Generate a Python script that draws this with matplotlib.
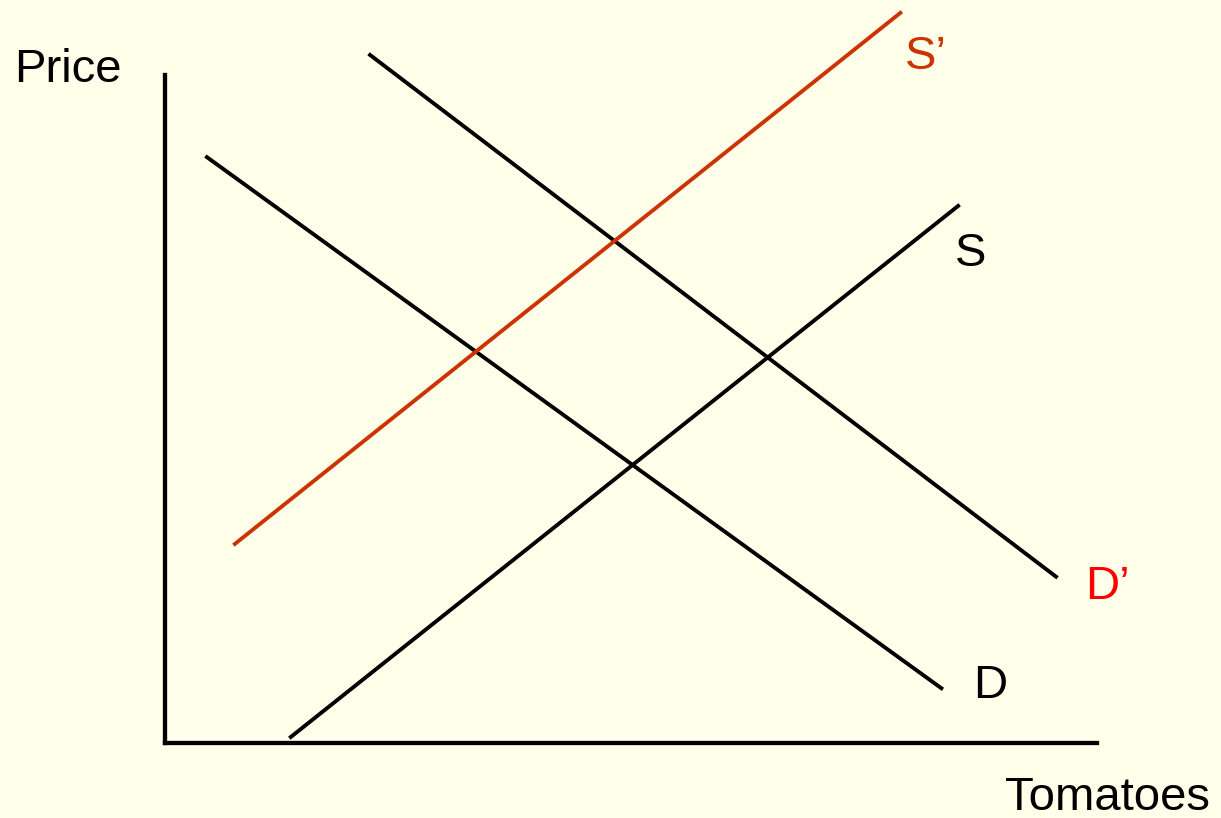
import matplotlib.pyplot as plt

# supply / demand shift diagram, units 0-100 on each axis
D_q = [4.5, 83.3]
D_p = [87.7, 8.2]
D2_q = [22.0, 95.6]
D2_p = [103.0, 24.9]
S_q = [13.5, 85.1]
S_p = [0.9, 80.4]
S2_q = [7.5, 78.9]
S2_p = [29.8, 109.3]

bg = '#ffffea'
plt.rcParams['font.family'] = ['Liberation Sans', 'DejaVu Sans']

fig = plt.figure(figsize=(12.21, 8.18), dpi=100, facecolor=bg)
ax = fig.add_axes([165 / 1221, 75 / 818, 932 / 1221, 668 / 818])
ax.set_facecolor(bg)
ax.patch.set_alpha(0)
ax.set_xlim(0, 100)
ax.set_ylim(0, 100)

for sp in ['top', 'right']:
    ax.spines[sp].set_visible(False)
for sp in ['left', 'bottom']:
    ax.spines[sp].set_linewidth(3.1)
    ax.spines[sp].set_capstyle('projecting')
ax.set_xticks([])
ax.set_yticks([])

lw = 2.8
ax.plot(D_q, D_p, color='black', lw=lw, clip_on=False)
ax.plot(D2_q, D2_p, color='black', lw=lw, clip_on=False)
ax.plot(S_q, S_p, color='black', lw=lw, clip_on=False)
ax.plot(S2_q, S2_p, color='#cc3300', lw=lw, clip_on=False)

fs = 34
ax.text(S2_q[1] + 0.5, S2_p[1] - 6.6, 'S\u2019', color='#cc3300', fontsize=fs,
        ha='left', va='center')
ax.text(S_q[1] - 0.4, S_p[1] - 7.2, 'S', color='black', fontsize=fs,
        ha='left', va='center')
ax.text(D2_q[1] + 3.1, D2_p[1] - 1.5, 'D\u2019', color='#ff0000', fontsize=fs,
        ha='left', va='center')
ax.text(D_q[1] + 3.4, D_p[1] + 0.4, 'D', color='black', fontsize=fs,
        ha='left', va='center')

fig.text(68 / 1221, 1 - 70 / 818, 'Price', fontsize=fs, ha='center', va='center')
fig.text(1107 / 1221, 1 - 798 / 818, 'Tomatoes', fontsize=fs, ha='center', va='center')

fig.savefig('out.png', dpi=100, facecolor=bg)
